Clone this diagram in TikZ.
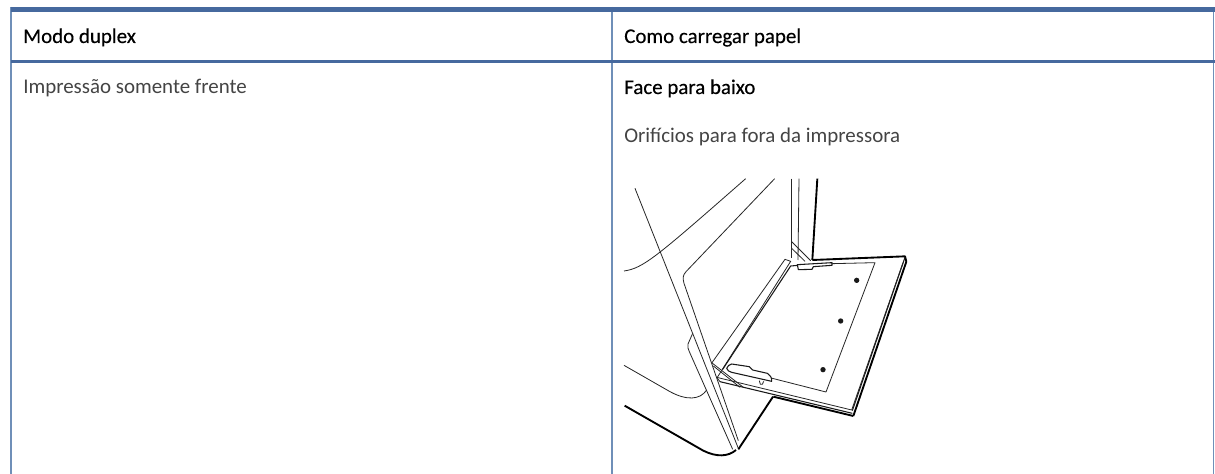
\documentclass[tikz,border=0pt]{standalone}
\usepackage{fontspec}
\setmainfont{Carlito}
\newfontfamily\headfont[FakeBold=0.25]{Carlito}
\definecolor{hpblue}{HTML}{46699E}
\definecolor{hprule}{HTML}{6F8FB8}
\definecolor{hptext}{HTML}{444444}
\tikzset{
  px/.style={x=0.75pt,y=-0.75pt},
  bar/.style={draw=hpblue,line width=3.6pt},
  barthin/.style={draw=hpblue,line width=2.3pt},
  rule/.style={draw=hprule,line width=0.95pt},
  head/.style={anchor=base west,inner sep=0pt,text=black,font=\headfont\fontsize{15.7pt}{18pt}\selectfont},
  body/.style={anchor=base west,inner sep=0pt,text=hptext,font=\fontsize{15.7pt}{18pt}\selectfont},
  thin/.style={draw=black!85,line width=0.6pt,line join=round},
  mid/.style={draw=black!90,line width=0.8pt,line join=round},
  thick/.style={draw=black,line width=1.4pt,line join=round},
  hole/.style={fill=black!90,draw=none}
}
\begin{document}
\begin{tikzpicture}[px]
\useasboundingbox[fill=white] (0,0) rectangle (1215,474);
\draw[rule] (11,7) -- (11,474);
\draw[rule] (612,7) -- (612,474);
\draw[rule] (1213.8,7) -- (1213.8,474);
\draw[bar] (10.5,9.8) -- (1214.5,9.8);
\draw[barthin] (10.5,61.5) -- (1214.5,61.5);
\node[head] (h1) at (23,43) {Modo duplex};
\node[head] (h2) at (624,43) {Como carregar papel};
\node[body] (b1) at (23,94) {Impressão somente frente};
\node[head] (b2) at (624,94) {Face para baixo};
\node[body] (b3) at (624,143) {Orifícios para fora da impressora};
\begin{scope}[shift={(600,170)},x=0.25pt,y=-0.25pt]
 % printer body
 \draw[thin] (105,55) -- (415,835);
 \draw[thin] (72,303) .. controls (130,295) and (170,260) .. (437,26);
 \draw[thin] (524,26) -- (258,305) .. controls (248,316) and (248,325) .. (252,340) -- (415,812);
 \draw[thin] (278,490) -- (264,522) .. controls (262,530) and (264,537) .. (268,545) -- (398,838);
 \draw[thin] (72,586) -- (210,665) .. controls (260,692) and (300,690) .. (320,660);
 \draw[thick] (74,707) -- (310,842) .. controls (350,862) and (385,860) .. (408,840);
 \draw[thick] (415,838) -- (519,680);
 % uprights
 \draw[thin] (575,26) -- (575,265);
 \draw[thin] (597,26) -- (594,270);
 \draw[thick] (652,26) -- (637,270);
 \draw[thin] (575,215) -- (632,272);
 \draw[thin] (575,235) -- (615,274);
 % tray outline
 \draw[thin] (336,578) -- (555,268) -- (572,274) -- (352,622);
 \draw[mid] (368,598) -- (572,288) -- (594,286);
 \draw[thick] (637,270) -- (915,259) -- (919,275) -- (760,738);
 \draw[mid] (915,262) -- (757,722);
 \draw[thin] (909,278) -- (755,720);
 \draw[thick] (760,738) -- (520,680);
 \draw[thin] (350,622) -- (755,720);
 \draw[mid] (360,635) -- (757,730);
 \draw[thin] (350,622) -- (360,635);
 % paper
 \draw[thin] (696,281) -- (825,278) -- (678,666) -- (513,624);
 % front guide
 \draw[mid,fill=white] (380,595) .. controls (382,588) and (388,584) .. (395,582) -- (448,590) -- (458,600) -- (502,610) .. controls (510,615) and (516,622) .. (515,634) -- (395,607) .. controls (388,605) and (382,602) .. (380,595);
 \draw[thin] (478,632) -- (481,643) -- (487,643) -- (491,634);
 \draw[thin] (335,578) -- (430,652);
 \draw[thin] (340,588) -- (420,652);
 % rear guide
 \draw[mid,fill=white] (592,284) -- (696,278) -- (696,286) -- (640,290) -- (636,298) -- (595,299) -- cycle;
 % holes
 \fill[hole] (770,331) circle (8);
 \fill[hole] (722,453) circle (8);
 \fill[hole] (669,599) circle (8);
\end{scope}
\end{tikzpicture}
\end{document}
